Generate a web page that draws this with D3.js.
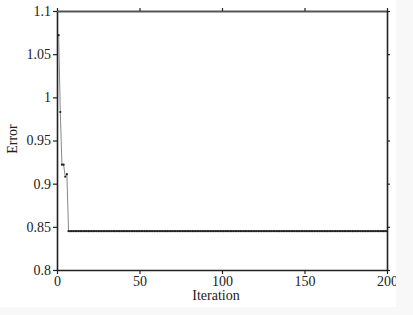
<!DOCTYPE html>
<html>
<head>
<meta charset="utf-8">
<script src="https://cdn.jsdelivr.net/npm/d3@7"></script>
<style>
  body { margin: 0; background: #f8f8f8; }
  svg { display: block; }
</style>
</head>
<body>
<svg id="chart"></svg>
<script>
// iterations 1..7, then the error stays flat at 0.845 up to 200
const firstErrors = [1.072, 0.983, 0.922, 0.922, 0.908, 0.911, 0.845];
const flatErrors = [
  0.845,0.845,0.845,0.845,0.845,0.845,0.845,0.845,0.845,0.845,0.845,0.845,0.845,0.845,0.845,0.845,0.845,0.845,0.845,0.845,
  0.845,0.845,0.845,0.845,0.845,0.845,0.845,0.845,0.845,0.845,0.845,0.845,0.845,0.845,0.845,0.845,0.845,0.845,0.845,0.845,
  0.845,0.845,0.845,0.845,0.845,0.845,0.845,0.845,0.845,0.845,0.845,0.845,0.845,0.845,0.845,0.845,0.845,0.845,0.845,0.845,
  0.845,0.845,0.845,0.845,0.845,0.845,0.845,0.845,0.845,0.845,0.845,0.845,0.845,0.845,0.845,0.845,0.845,0.845,0.845,0.845,
  0.845,0.845,0.845,0.845,0.845,0.845,0.845,0.845,0.845,0.845,0.845,0.845,0.845,0.845,0.845,0.845,0.845,0.845,0.845,0.845,
  0.845,0.845,0.845,0.845,0.845,0.845,0.845,0.845,0.845,0.845,0.845,0.845,0.845,0.845,0.845,0.845,0.845,0.845,0.845,0.845,
  0.845,0.845,0.845,0.845,0.845,0.845,0.845,0.845,0.845,0.845,0.845,0.845,0.845,0.845,0.845,0.845,0.845,0.845,0.845,0.845,
  0.845,0.845,0.845,0.845,0.845,0.845,0.845,0.845,0.845,0.845,0.845,0.845,0.845,0.845,0.845,0.845,0.845,0.845,0.845,0.845,
  0.845,0.845,0.845,0.845,0.845,0.845,0.845,0.845,0.845,0.845,0.845,0.845,0.845,0.845,0.845,0.845,0.845,0.845,0.845,0.845,
  0.845,0.845,0.845,0.845,0.845,0.845,0.845,0.845,0.845,0.845,0.845,0.845,0.845
];
const errors = firstErrors.concat(flatErrors);
const xTicks = [0, 50, 100, 150, 200];
const yTicks = [0.8, 0.85, 0.9, 0.95, 1, 1.05, 1.1];

(function () {
    const W = 413, H = 315;
    const margin = { left: 57, top: 11, right: 26, bottom: 45 };
    const width = W - margin.left - margin.right;
    const height = H - margin.top - margin.bottom;
    const serif = 'Liberation Serif';

    const data = errors.map((e, i) => ({ x: i + 1, y: e }));

    const svg = d3.select('#chart')
        .attr('width', W)
        .attr('height', H);

    // the original figure is cropped on the right, cutting into the "200" label
    const defs = svg.append('defs');
    defs.append('clipPath').attr('id', 'page')
        .append('rect').attr('width', 396).attr('height', 307);
    defs.append('clipPath').attr('id', 'plot')
        .append('rect').attr('x', -1).attr('y', -1).attr('width', width + 2).attr('height', height + 2);

    const page = svg.append('g').attr('clip-path', 'url(#page)');
    page.append('rect').attr('width', 396).attr('height', 307).attr('fill', '#fff');

    const g = page.append('g').attr('transform', `translate(${margin.left},${margin.top})`);

    const xScale = d3.scaleLinear().domain([0, 200]).range([0, width]);
    const yScale = d3.scaleLinear().domain([0.8, 1.1]).range([height, 0]);

    const fmtY = d => String(+d.toFixed(2));

    const styleAxis = sel => {
        sel.attr('font-family', serif).attr('font-size', 14);
        sel.select('.domain').attr('stroke', '#222').attr('stroke-width', 1.6);
        sel.selectAll('.tick line').attr('stroke', '#222').attr('stroke-width', 1.2);
        sel.selectAll('.tick text').attr('fill', '#222')
            .style('font-family', serif).style('font-size', '14px');
    };

    g.append('g').attr('transform', `translate(0,${height})`)
        .call(d3.axisBottom(xScale).tickValues(xTicks).tickSize(4).tickSizeOuter(0).tickPadding(2))
        .call(styleAxis);

    g.append('g')
        .call(d3.axisLeft(yScale).tickValues(yTicks).tickFormat(fmtY).tickSize(4).tickSizeOuter(0).tickPadding(2))
        .call(styleAxis);

    g.append('g')
        .call(d3.axisTop(xScale).tickValues(xTicks).tickFormat('').tickSize(3).tickSizeOuter(0))
        .call(styleAxis)
        .call(a => a.select('.domain').attr('stroke', '#555').attr('stroke-width', 2));

    g.append('g').attr('transform', `translate(${width},0)`)
        .call(d3.axisRight(yScale).tickValues(yTicks).tickFormat('').tickSize(3).tickSizeOuter(0))
        .call(styleAxis);

    const line = d3.line()
        .x(d => xScale(d.x))
        .y(d => yScale(d.y));

    const plot = g.append('g').attr('clip-path', 'url(#plot)');

    plot.append('path')
        .datum(data)
        .attr('fill', 'none')
        .attr('stroke', '#888')
        .attr('stroke-width', 1)
        .attr('d', line);

    plot.selectAll('circle')
        .data(data)
        .join('circle')
        .attr('cx', d => xScale(d.x))
        .attr('cy', d => yScale(d.y))
        .attr('r', 1.1)
        .attr('fill', '#222');

    page.append('text')
        .attr('x', 216)
        .attr('y', 300)
        .attr('text-anchor', 'middle')
        .attr('fill', '#222')
        .style('font-family', serif)
        .style('font-size', '14px')
        .text('Iteration');

    page.append('text')
        .attr('transform', 'translate(17,139) rotate(-90)')
        .attr('text-anchor', 'middle')
        .attr('fill', '#222')
        .style('font-family', serif)
        .style('font-size', '14px')
        .text('Error');
})();
</script>
</body>
</html>
